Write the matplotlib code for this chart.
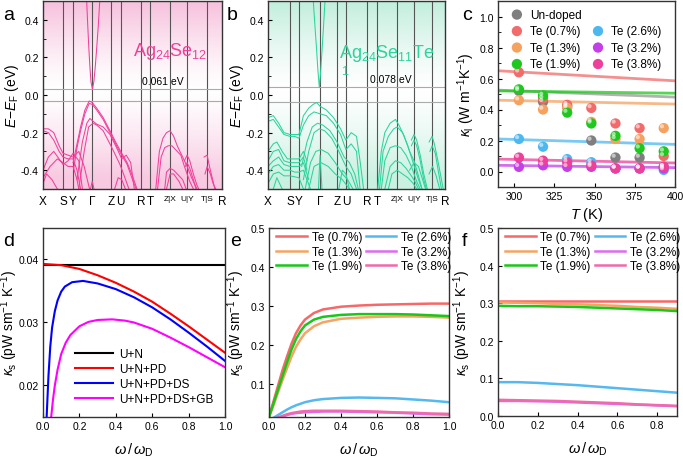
import numpy as np
import matplotlib
matplotlib.use("Agg")
import matplotlib.pyplot as plt
from matplotlib import transforms
from matplotlib.lines import Line2D

plt.rcParams['font.family'] = ['Liberation Sans', 'DejaVu Sans']
plt.rcParams['mathtext.fontset'] = 'custom'
plt.rcParams['mathtext.rm'] = 'Liberation Sans'
plt.rcParams['mathtext.it'] = 'Liberation Sans:italic'
plt.rcParams['mathtext.bf'] = 'Liberation Sans:bold'
plt.rcParams['axes.unicode_minus'] = False
plt.rcParams['axes.linewidth'] = 1.0
plt.rcParams['axes.edgecolor'] = '#333333'

# ---------------- data ----------------
klabels = ['X', 'S', 'Y', 'Γ', 'Z', 'U', 'R', 'T', 'Z|X', 'U|Y', 'T|S', 'R']
knodes_a = [0, 0.112, 0.168, 0.276, 0.38, 0.435, 0.547, 0.60, 0.71, 0.805, 0.917, 1.0]
knodes_b = [0, 0.124, 0.175, 0.294, 0.392, 0.441, 0.559, 0.616, 0.729, 0.825, 0.927, 1.0]

# bands of Ag24Se12: (k, E) pairs
bands_a = [
    ([0.244, 0.25, 0.256, 0.262, 0.268, 0.276, 0.284, 0.292, 0.30, 0.309, 0.317],
     [0.5, 0.37, 0.25, 0.15, 0.07, 0.031, 0.07, 0.15, 0.25, 0.37, 0.5]),
    ([0.168, 0.19, 0.21, 0.234, 0.258, 0.275, 0.30, 0.336, 0.374, 0.411, 0.44, 0.47, 0.50, 0.525],
     [-0.36, -0.26, -0.17, -0.08, -0.032, -0.04, -0.07, -0.12, -0.19, -0.26, -0.31, -0.36, -0.43, -0.5]),
    ([0.172, 0.19, 0.21, 0.234, 0.258, 0.275, 0.30, 0.336, 0.374, 0.411, 0.44, 0.47, 0.50, 0.52],
     [-0.39, -0.28, -0.19, -0.10, -0.045, -0.05, -0.08, -0.13, -0.20, -0.27, -0.32, -0.37, -0.45, -0.5]),
    ([0.19, 0.22, 0.245, 0.262, 0.28, 0.30, 0.336, 0.374, 0.411, 0.44, 0.465, 0.49, 0.51],
     [-0.45, -0.25, -0.15, -0.125, -0.14, -0.155, -0.17, -0.21, -0.28, -0.34, -0.32, -0.36, -0.5]),
    ([0.20, 0.23, 0.255, 0.28, 0.30, 0.336, 0.374, 0.40, 0.43, 0.45, 0.48],
     [-0.5, -0.30, -0.17, -0.15, -0.16, -0.19, -0.26, -0.31, -0.37, -0.42, -0.5]),
    ([0, 0.03, 0.06, 0.09, 0.112, 0.14, 0.168, 0.20, 0.23, 0.26],
     [-0.18, -0.18, -0.20, -0.27, -0.31, -0.32, -0.33, -0.30, -0.38, -0.5]),
    ([0, 0.03, 0.06, 0.09, 0.112, 0.14, 0.168, 0.19, 0.21],
     [-0.19, -0.20, -0.24, -0.30, -0.33, -0.34, -0.34, -0.40, -0.5]),
    ([0, 0.03, 0.06, 0.09, 0.112, 0.14, 0.168, 0.20, 0.22],
     [-0.40, -0.33, -0.30, -0.34, -0.37, -0.35, -0.31, -0.35, -0.5]),
    ([0, 0.04, 0.08, 0.112, 0.14, 0.168, 0.19, 0.20],
     [-0.44, -0.38, -0.34, -0.36, -0.38, -0.38, -0.45, -0.5]),
    ([0, 0.02, 0.05, 0.08], [-0.47, -0.42, -0.45, -0.5]),
    ([0.40, 0.42, 0.44, 0.46], [-0.5, -0.44, -0.45, -0.5]),
    ([0.265, 0.275, 0.285], [-0.5, -0.46, -0.5]),
    ([0.63, 0.65, 0.67, 0.69, 0.71, 0.73, 0.75, 0.78, 0.805, 0.83, 0.86],
     [-0.5, -0.30, -0.23, -0.20, -0.19, -0.22, -0.27, -0.33, -0.38, -0.44, -0.5]),
    ([0.64, 0.66, 0.68, 0.70, 0.72, 0.74, 0.77, 0.79, 0.805, 0.82, 0.84],
     [-0.5, -0.33, -0.28, -0.27, -0.27, -0.29, -0.32, -0.38, -0.42, -0.46, -0.5]),
    ([0.68, 0.69, 0.71, 0.73, 0.76, 0.78, 0.80],
     [-0.5, -0.41, -0.39, -0.40, -0.43, -0.45, -0.5]),
    ([0.69, 0.71, 0.73, 0.76, 0.78], [-0.5, -0.42, -0.42, -0.46, -0.5]),
    ([0.79, 0.805, 0.82, 0.84, 0.86, 0.87], [-0.35, -0.32, -0.35, -0.42, -0.48, -0.5]),
    ([0.795, 0.805, 0.82, 0.84, 0.855], [-0.38, -0.36, -0.39, -0.45, -0.5]),
    ([0.90, 0.917, 0.93, 0.945, 0.96], [-0.33, -0.32, -0.38, -0.44, -0.5]),
    ([0.905, 0.917, 0.935, 0.95, 0.965], [-0.42, -0.38, -0.42, -0.47, -0.5]),
]

# bands of Ag24Se11Te1
bands_b = [
    ([0.256, 0.265, 0.274, 0.282, 0.29, 0.298, 0.306, 0.314, 0.322],
     [0.5, 0.37, 0.25, 0.13, 0.04, 0.13, 0.25, 0.37, 0.5]),
    ([0, 0.03, 0.06, 0.09, 0.124, 0.15, 0.175, 0.20, 0.23, 0.255, 0.275, 0.294, 0.33, 0.37, 0.41, 0.44, 0.47, 0.50, 0.52, 0.54],
     [-0.12, -0.11, -0.15, -0.20, -0.21, -0.21, -0.21, -0.11, -0.07, -0.05, -0.04, -0.06, -0.08, -0.12, -0.18, -0.24, -0.20, -0.22, -0.35, -0.5]),
    ([0, 0.03, 0.06, 0.09, 0.124, 0.15, 0.175, 0.20, 0.23, 0.26, 0.294, 0.33, 0.37, 0.41, 0.44, 0.47, 0.50, 0.52],
     [-0.14, -0.13, -0.17, -0.21, -0.22, -0.22, -0.23, -0.16, -0.11, -0.09, -0.10, -0.11, -0.15, -0.21, -0.29, -0.26, -0.30, -0.5]),
    ([0.19, 0.22, 0.25, 0.28, 0.31, 0.35, 0.39, 0.43, 0.46, 0.49, 0.51],
     [-0.38, -0.25, -0.17, -0.15, -0.16, -0.19, -0.25, -0.33, -0.36, -0.42, -0.5]),
    ([0.20, 0.23, 0.26, 0.29, 0.32, 0.36, 0.40, 0.44, 0.47, 0.50],
     [-0.45, -0.30, -0.20, -0.18, -0.19, -0.23, -0.30, -0.38, -0.42, -0.5]),
    ([0.21, 0.24, 0.27, 0.30, 0.34, 0.38, 0.42, 0.45, 0.48],
     [-0.5, -0.36, -0.30, -0.29, -0.31, -0.36, -0.42, -0.45, -0.5]),
    ([0.23, 0.26, 0.30, 0.34, 0.38, 0.42, 0.46],
     [-0.5, -0.38, -0.36, -0.38, -0.42, -0.45, -0.5]),
    ([0, 0.03, 0.05, 0.08, 0.11, 0.124, 0.15, 0.175, 0.20, 0.22],
     [-0.30, -0.26, -0.25, -0.30, -0.34, -0.34, -0.34, -0.34, -0.30, -0.35]),
    ([0, 0.03, 0.06, 0.09, 0.124, 0.15, 0.175, 0.20, 0.22],
     [-0.35, -0.30, -0.29, -0.35, -0.36, -0.36, -0.36, -0.33, -0.40]),
    ([0, 0.03, 0.06, 0.09, 0.124, 0.15, 0.175, 0.20, 0.23],
     [-0.38, -0.35, -0.33, -0.37, -0.38, -0.38, -0.38, -0.36, -0.45]),
    ([0, 0.03, 0.06, 0.09, 0.124, 0.15, 0.175, 0.20, 0.24],
     [-0.42, -0.38, -0.37, -0.40, -0.40, -0.41, -0.41, -0.40, -0.5]),
    ([0, 0.03, 0.06, 0.09, 0.124, 0.175, 0.20],
     [-0.47, -0.42, -0.41, -0.43, -0.43, -0.44, -0.5]),
    ([0.03, 0.05, 0.08], [-0.5, -0.44, -0.5]),
    ([0.285, 0.294, 0.305], [-0.5, -0.32, -0.5]),
    ([0.40, 0.42, 0.44, 0.46], [-0.5, -0.40, -0.42, -0.5]),
    ([0.62, 0.64, 0.66, 0.69, 0.72, 0.74, 0.77, 0.80, 0.825, 0.85, 0.87],
     [-0.5, -0.30, -0.20, -0.15, -0.13, -0.16, -0.22, -0.30, -0.35, -0.43, -0.5]),
    ([0.63, 0.65, 0.68, 0.71, 0.73, 0.76, 0.79, 0.82, 0.85, 0.87],
     [-0.5, -0.30, -0.22, -0.18, -0.17, -0.20, -0.27, -0.36, -0.45, -0.5]),
    ([0.64, 0.66, 0.69, 0.72, 0.75, 0.78, 0.81, 0.84, 0.86],
     [-0.5, -0.35, -0.28, -0.27, -0.28, -0.32, -0.38, -0.46, -0.5]),
    ([0.66, 0.69, 0.72, 0.75, 0.78, 0.81, 0.83, 0.85],
     [-0.5, -0.38, -0.35, -0.36, -0.39, -0.43, -0.46, -0.5]),
    ([0.68, 0.70, 0.73, 0.76, 0.79, 0.82, 0.84],
     [-0.5, -0.42, -0.40, -0.42, -0.44, -0.47, -0.5]),
    ([0.81, 0.825, 0.84, 0.86, 0.88, 0.90], [-0.24, -0.21, -0.24, -0.32, -0.42, -0.5]),
    ([0.81, 0.825, 0.84, 0.86, 0.88, 0.895], [-0.27, -0.24, -0.27, -0.35, -0.45, -0.5]),
    ([0.80, 0.825, 0.85, 0.87, 0.89], [-0.40, -0.36, -0.38, -0.44, -0.5]),
    ([0.91, 0.927, 0.94, 0.96, 0.98, 0.99], [-0.25, -0.22, -0.26, -0.35, -0.45, -0.5]),
    ([0.915, 0.927, 0.945, 0.965, 0.98], [-0.30, -0.27, -0.31, -0.42, -0.5]),
    ([0.91, 0.93, 0.95, 0.97], [-0.42, -0.38, -0.43, -0.5]),
]

# panel c: lattice thermal conductivity
T = [303, 318, 333, 348, 363, 378, 393]
c_names = ['Un-doped', 'Te (0.7%)', 'Te (1.3%)', 'Te (1.9%)', 'Te (2.6%)', 'Te (3.2%)', 'Te (3.8%)']
c_colors = ['#7f7f7f', '#f26b6b', '#f5a260', '#1ec81e', '#4db8f0', '#c43fe8', '#ee3f9a']
kl_undoped = [0.52, 0.45, 0.42, 0.20, 0.09, 0.09, 0.03]
kl_te07 = [0.64, 0.47, 0.43, 0.41, 0.31, 0.28, 0.10]
kl_te13 = [0.46, 0.40, 0.41, 0.32, 0.21, 0.21, 0.28]
kl_te19 = [0.53, 0.49, 0.38, 0.31, 0.23, 0.15, 0.13]
kl_te26 = [0.21, 0.16, 0.08, 0.06, 0.02, 0.02, 0.01]
kl_te32 = [0.03, 0.04, 0.03, 0.03, 0.02, 0.02, 0.02]
kl_te38 = [0.09, 0.07, 0.06, 0.04, 0.02, 0.02, 0.03]
c_series = [kl_undoped, kl_te07, kl_te13, kl_te19, kl_te26, kl_te32, kl_te38]
fit_T = [290, 400]
fit_start = [0.525, 0.65, 0.46, 0.52, 0.21, 0.04, 0.08]
fit_end = [0.48, 0.585, 0.435, 0.505, 0.175, 0.025, 0.055]

# panel d
d_names = ['U+N', 'U+N+PD', 'U+N+PD+DS', 'U+N+PD+DS+GB']
d_colors = ['black', '#ff0000', '#0000ff', '#ff00ff']
w_un = [0.0, 1.0]
ks_un = [0.0392, 0.0392]
w_pd = [0.0, 0.1, 0.2, 0.3, 0.4, 0.5, 0.6, 0.7, 0.8, 0.9, 1.0]
ks_pd = [0.0393, 0.0391, 0.0385, 0.0375, 0.0363, 0.0349, 0.0333, 0.0314, 0.0294, 0.0273, 0.0252]
w_ds = [0.02, 0.03, 0.04, 0.05, 0.065, 0.08, 0.10, 0.12, 0.16, 0.22, 0.30, 0.40, 0.50, 0.60, 0.70, 0.80, 0.90, 1.0]
ks_ds = [0.0150, 0.0215, 0.0262, 0.0292, 0.0318, 0.0335, 0.0349, 0.0357, 0.0364, 0.0366, 0.0362, 0.0353, 0.0340, 0.0324, 0.0305, 0.0284, 0.0262, 0.0239]
w_gb = [0.045, 0.055, 0.065, 0.08, 0.10, 0.125, 0.15, 0.20, 0.25, 0.30, 0.38, 0.45, 0.50, 0.60, 0.70, 0.80, 0.90, 1.0]
ks_gb = [0.0150, 0.0178, 0.0200, 0.0225, 0.0250, 0.0268, 0.0280, 0.0294, 0.0301, 0.0304, 0.0305, 0.0303, 0.0300, 0.0290, 0.0276, 0.0261, 0.0245, 0.0229]

# panel e / f
ef_names = ['Te (0.7%)', 'Te (1.3%)', 'Te (1.9%)', 'Te (2.6%)', 'Te (3.2%)', 'Te (3.8%)']
ef_colors = ['#f76868', '#f5a462', '#18c818', '#55b9ef', '#dc6cf0', '#ef6aaa']
w_e = [0.0, 0.025, 0.05, 0.075, 0.10, 0.125, 0.15, 0.175, 0.20, 0.25, 0.30, 0.40, 0.50, 0.60, 0.70, 0.80, 0.90, 1.0]
e_te07 = [0.015, 0.055, 0.095, 0.135, 0.170, 0.203, 0.230, 0.250, 0.265, 0.282, 0.291, 0.298, 0.301, 0.303, 0.304, 0.305, 0.306, 0.306]
e_te13 = [0.015, 0.045, 0.078, 0.110, 0.140, 0.170, 0.195, 0.214, 0.230, 0.248, 0.258, 0.267, 0.270, 0.272, 0.273, 0.273, 0.272, 0.270]
e_te19 = [0.015, 0.050, 0.085, 0.120, 0.155, 0.188, 0.215, 0.235, 0.250, 0.265, 0.272, 0.277, 0.279, 0.279, 0.279, 0.278, 0.276, 0.274]
e_te26 = [0.008, 0.013, 0.020, 0.027, 0.034, 0.040, 0.045, 0.049, 0.053, 0.058, 0.061, 0.064, 0.065, 0.064, 0.063, 0.060, 0.057, 0.053]
e_te32 = [0.005, 0.008, 0.012, 0.016, 0.020, 0.023, 0.025, 0.026, 0.027, 0.028, 0.029, 0.029, 0.028, 0.027, 0.026, 0.024, 0.022, 0.021]
e_te38 = [0.006, 0.010, 0.014, 0.018, 0.022, 0.025, 0.027, 0.029, 0.030, 0.031, 0.031, 0.031, 0.030, 0.029, 0.027, 0.026, 0.024, 0.023]
e_series = [e_te07, e_te13, e_te19, e_te26, e_te32, e_te38]

w_f = [0.0, 0.1, 0.2, 0.3, 0.4, 0.5, 0.6, 0.7, 0.8, 0.9]
f_te07 = [0.307, 0.307, 0.307, 0.307, 0.307, 0.307, 0.307, 0.307, 0.307, 0.307]
f_te13 = [0.302, 0.301, 0.300, 0.298, 0.297, 0.295, 0.293, 0.290, 0.288, 0.285]
f_te19 = [0.293, 0.292, 0.292, 0.291, 0.290, 0.288, 0.286, 0.284, 0.282, 0.279]
f_te26 = [0.090, 0.090, 0.088, 0.085, 0.082, 0.078, 0.074, 0.070, 0.066, 0.062]
f_te32 = [0.040, 0.040, 0.039, 0.038, 0.036, 0.034, 0.032, 0.030, 0.028, 0.026]
f_te38 = [0.043, 0.042, 0.041, 0.040, 0.038, 0.036, 0.034, 0.031, 0.029, 0.027]
f_series = [f_te07, f_te13, f_te19, f_te26, f_te32, f_te38]

# ---------------- figure ----------------
W, H = 683, 460
fig = plt.figure(figsize=(W / 100, H / 100), dpi=100)


def px_axes(x0, y0, x1, y1):
    return fig.add_axes([x0 / W, 1 - y1 / H, (x1 - x0) / W, (y1 - y0) / H])


def style(ax):
    ax.tick_params(direction='in', labelsize=7.5, length=3, width=0.8, pad=3)
    ax.tick_params(which='minor', direction='in', length=1.8, width=0.6)


def band_panel(ax, bands, knodes, color, bgcolor, gap, gap_txt, gap_pos):
    # background gradient
    e = np.linspace(0.5, -0.5, 300)
    alpha = np.clip(np.abs(e - 0.03) / 0.47, 0, 1) ** 1.3 * 0.55
    alpha[e < 0] *= 0.85
    rgba = np.zeros((300, 1, 4))
    rgba[..., :3] = matplotlib.colors.to_rgb(bgcolor)
    rgba[:, 0, 3] = alpha
    ax.imshow(rgba, extent=[0, 1, -0.5, 0.5], aspect='auto', zorder=0)
    for k in knodes[1:-1]:
        ax.axvline(k, color='#555555', lw=0.8, zorder=1)
    for g in gap:
        ax.axhline(g, color='#aaaaaa', lw=0.8, zorder=1)
    for kk, ee in bands:
        ax.plot(kk, ee, color=color, lw=0.75, zorder=2)
    ax.set_xlim(0, 1)
    ax.set_ylim(-0.5, 0.5)
    ax.set_xticks(knodes)
    ax.set_xticklabels(klabels)
    for lab in ax.get_xticklabels():
        lab.set_fontsize(6 if '|' in lab.get_text() else 8.5)
    ax.set_yticks([-0.4, -0.2, 0.0, 0.2, 0.4])
    ax.set_yticks(np.arange(-0.5, 0.51, 0.1), minor=True)
    ax.tick_params(axis='x', length=0, pad=4)
    ax.set_ylabel(r'$E$$-$$E_\mathrm{F}$ (eV)', fontsize=10)
    ax.yaxis.set_label_coords(-0.125, 0.5)
    ax.text(gap_pos[0], gap_pos[1], gap_txt, fontsize=7.5, ha='center', va='center')


ax_a = px_axes(43, 2, 222, 190)
style(ax_a)
band_panel(ax_a, bands_a, knodes_a, '#f0409a', '#f08cc0', [0.031, -0.03], '0.061 eV', (0.67, 0.075))
ax_a.text(0.71, 0.235, r'Ag$_{24}$Se$_{12}$', color='#f0409a', fontsize=13, ha='center', va='center')

ax_b = px_axes(268, 2, 445, 190)
style(ax_b)
band_panel(ax_b, bands_b, knodes_b, '#2cd39c', '#8ee0c0', [0.04, -0.038], '0.078 eV', (0.695, 0.083))
ax_b.text(0.672, 0.225, r'Ag$_{24}$Se$_{11}$Te', color='#2cd39c', fontsize=13, ha='center', va='center')
ax_b.text(0.435, 0.126, '1', color='#2cd39c', fontsize=9, ha='center', va='center')

# panel c
ax_c = px_axes(498, 2, 675, 188)
style(ax_c)
for i in range(len(c_series)):
    ax_c.plot(fit_T, [fit_start[i], fit_end[i]], color=c_colors[i], lw=2, alpha=0.6 if i == 0 else 0.75, zorder=2)
hl = transforms.offset_copy(ax_c.transData, fig=fig, x=-1.3, y=1.3, units='points')
handles = []
for i, ys in enumerate(c_series):
    h = ax_c.scatter(T, ys, s=55, color=c_colors[i], edgecolors='none', zorder=3, label=c_names[i])
    ax_c.scatter(T, ys, s=9, color='white', alpha=0.55, edgecolors='none', zorder=4, transform=hl)
    handles.append(h)
blank = Line2D([], [], linestyle='none', marker=None)
leg_h = handles[:4] + [blank] + handles[4:]
leg_l = c_names[:4] + [''] + c_names[4:]
ax_c.legend(leg_h, leg_l, ncol=2, loc='upper left', bbox_to_anchor=(0.03, 1.0), frameon=False,
            fontsize=8.5, handletextpad=0.6, columnspacing=0.9, labelspacing=0.38, borderaxespad=0.25,
            handlelength=1.0)
ax_c.set_xlim(290, 400)
ax_c.set_ylim(-0.1, 1.1)
ax_c.set_xticks([300, 325, 350, 375, 400])
ax_c.set_yticks([0.0, 0.2, 0.4, 0.6, 0.8, 1.0])
ax_c.set_yticks(np.arange(-0.1, 1.1, 0.1), minor=True)
ax_c.set_xlabel(r'$T$ (K)', fontsize=10.5, labelpad=3)
ax_c.set_ylabel(r'$\kappa_\mathrm{l}$ (W m$^{-1}$K$^{-1}$)', fontsize=10)
ax_c.yaxis.set_label_coords(-0.12, 0.5)

ks_label = r'$\kappa_\mathrm{s}$ (pW sm$^{-1}$ K$^{-1}$)'
w_label = r'$\omega\,/\,\omega_\mathrm{D}$'

# panel d
ax_d = px_axes(43, 229, 225, 418)
style(ax_d)
for (xs, ys), nm, col in zip([(w_un, ks_un), (w_pd, ks_pd), (w_ds, ks_ds), (w_gb, ks_gb)], d_names, d_colors):
    ax_d.plot(xs, ys, color=col, lw=1.5, label=nm)
ax_d.set_xlim(0, 1)
ax_d.set_ylim(0.015, 0.045)
ax_d.set_yticks([0.02, 0.03, 0.04])
ax_d.set_xticks([0, 0.2, 0.4, 0.6, 0.8, 1.0])
ax_d.set_xticklabels(['0.0', '0.2', '0.4', '0.6', '0.8', '1.0'])
ax_d.legend(loc='lower right', bbox_to_anchor=(1.0, 0.0), frameon=False, fontsize=8.5,
            handlelength=3.2, handletextpad=0.5, labelspacing=0.25, borderaxespad=0.6)
ax_d.set_xlabel(w_label, fontsize=10.5, labelpad=7)
ax_d.set_ylabel(ks_label, fontsize=10)
ax_d.yaxis.set_label_coords(-0.125, 0.5)

# panel e
ax_e = px_axes(269, 229, 449, 418)
style(ax_e)
for ys, nm, col in zip(e_series, ef_names, ef_colors):
    ax_e.plot(w_e, ys, color=col, lw=1.8, label=nm)
ax_e.set_xlim(0, 1)
ax_e.set_ylim(0.015, 0.5)
ax_e.set_yticks([0.1, 0.2, 0.3, 0.4, 0.5])
ax_e.set_xticks([0, 0.2, 0.4, 0.6, 0.8, 1.0])
ax_e.set_xticklabels(['0.0', '0.2', '0.4', '0.6', '0.8', '1.0'])
ax_e.legend(ncol=2, loc='upper left', bbox_to_anchor=(0.0, 1.02), frameon=False, fontsize=8.5,
            handlelength=2.6, handletextpad=0.4, columnspacing=0.3, labelspacing=0.2, borderaxespad=0.2)
ax_e.set_xlabel(w_label, fontsize=10.5, labelpad=7)
ax_e.set_ylabel(ks_label, fontsize=10)
ax_e.yaxis.set_label_coords(-0.122, 0.5)

# panel f
ax_f = px_axes(498, 229, 677, 417)
style(ax_f)
for ys, nm, col in zip(f_series, ef_names, ef_colors):
    ax_f.plot(w_f, ys, color=col, lw=1.8, label=nm)
ax_f.set_xlim(0, 0.9)
ax_f.set_ylim(0, 0.5)
ax_f.set_yticks([0.0, 0.1, 0.2, 0.3, 0.4, 0.5])
ax_f.set_xticks([0, 0.2, 0.4, 0.6, 0.8])
ax_f.set_xticklabels(['0.0', '0.2', '0.4', '0.6', '0.8'])
ax_f.legend(ncol=2, loc='upper left', bbox_to_anchor=(0.0, 1.02), frameon=False, fontsize=8.5,
            handlelength=2.6, handletextpad=0.4, columnspacing=0.3, labelspacing=0.2, borderaxespad=0.2)
ax_f.set_xlabel(w_label, fontsize=10.5, labelpad=7)
ax_f.set_ylabel(ks_label, fontsize=10)
ax_f.yaxis.set_label_coords(-0.14, 0.5)

# panel letters
for x, y, s in [(3, 20, 'a'), (227, 20, 'b'), (462, 20, 'c'), (3, 246, 'd'), (230, 246, 'e'), (462, 246, 'f')]:
    fig.text(x / W, 1 - y / H, s, fontsize=14, va='baseline', ha='left')

fig.savefig('out.png', dpi=100)
